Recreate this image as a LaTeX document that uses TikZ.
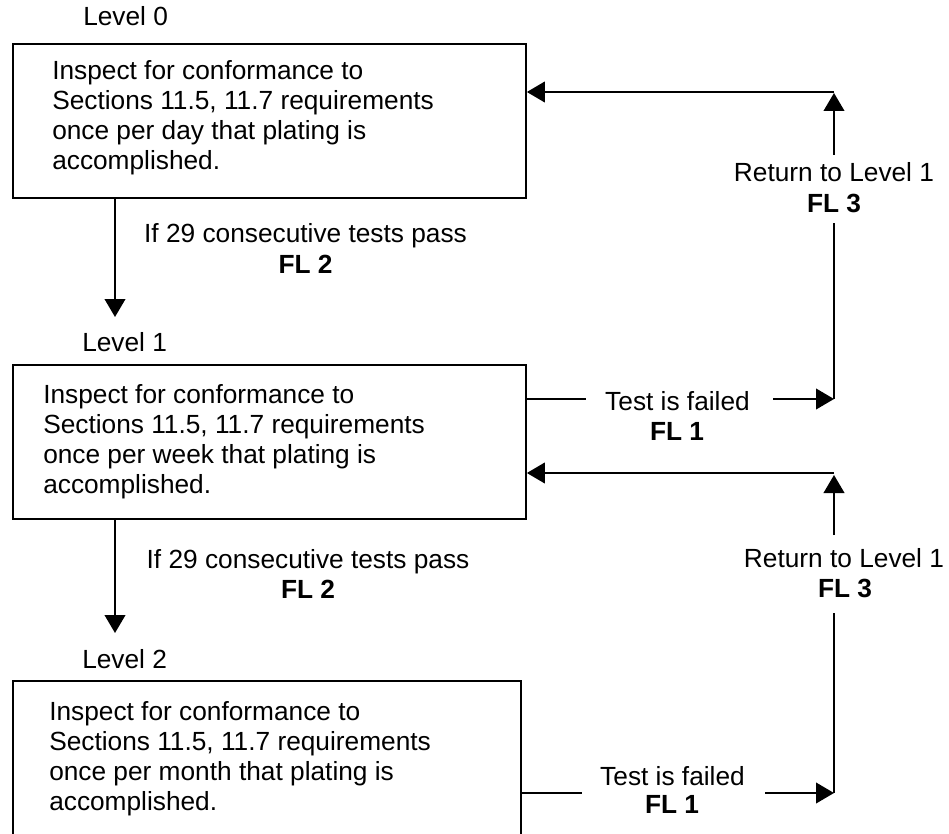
\documentclass[tikz,border=0pt]{standalone}
\usepackage{fontspec}
\setmainfont{Liberation Sans}
\usetikzlibrary{arrows.meta}
\begin{document}
\begin{tikzpicture}[x=0.75pt,y=-0.75pt,
  font=\fontsize{19.7}{22.5}\selectfont,
  box/.style={draw, line width=1.4pt, anchor=north west, inner sep=0pt},
  txt/.style={inner sep=0pt, align=left, anchor=base west},
  lbl/.style={inner sep=0pt, anchor=base},
  lvl/.style={inner sep=0pt, anchor=base west},
  conn/.style={line width=1.4pt},
  arr/.style={conn, -{Triangle[length=13.5pt,width=15.5pt]}}]
\useasboundingbox (0,0) rectangle (949,834);

% boxes
\node[box, minimum width=384.75pt, minimum height=115.5pt] (b0) at (12,43) {};
\node[box, minimum width=384.75pt, minimum height=115.5pt] (b1) at (12,364) {};
\node[box, minimum width=381pt, minimum height=122pt] (b2) at (12,680) {};

% level labels
\node[lvl] (lv0) at (83,26) {Level 0};
\node[lvl] (lv1) at (82,351) {Level 1};
\node[lvl] (lv2) at (82,668) {Level 2};

% box texts (anchor is the baseline of the last line)
\node[txt] (t0) at (52,170) {Inspect for conformance to\\Sections 11.5, 11.7 requirements\\once per day that plating is\\accomplished.};
\node[txt] (t1) at (43,493) {Inspect for conformance to\\Sections 11.5, 11.7 requirements\\once per week that plating is\\accomplished.};
\node[txt] (t2) at (49,810) {Inspect for conformance to\\Sections 11.5, 11.7 requirements\\once per month that plating is\\accomplished.};

% downward arrows
\coordinate (a1) at (115,317);
\coordinate (a2) at (115,633);
\draw[arr] (a1 |- b0.south) -- (a1);
\draw[arr] (a2 |- b1.south) -- (a2);
\node[lbl] (p1) at (305.5,243) {If 29 consecutive tests pass};
\node[lbl] (p1b) at (305.5,273) {\textbf{FL 2}};
\node[lbl] (p2) at (308,568) {If 29 consecutive tests pass};
\node[lbl] (p2b) at (308,598) {\textbf{FL 2}};

% upper loop (Level 1 fails -> Level 0)
\coordinate (f1a) at (586,399);
\coordinate (f1b) at (773,399);
\coordinate (k1) at (834,399);
\coordinate (k1u) at (834,223);
\coordinate (k1v) at (834,155);
\coordinate (k1t) at (834,93);
\coordinate (h0) at (834,92);
\draw[conn] (f1a -| b1.east) -- (f1a);
\draw[arr] (f1b) -- (k1);
\draw[conn] (k1) -- (k1u);
\draw[arr] (k1v) -- (k1t);
\draw[arr] (h0) -- (h0 -| b0.east);
\node[lbl] (tf1) at (677.5,410) {Test is failed};
\node[lbl] (tf1b) at (677,440) {\textbf{FL 1}};
\node[lbl] (r1) at (834,182) {Return to Level 1};
\node[lbl] (r1b) at (834,213) {\textbf{FL 3}};

% lower loop (Level 2 fails -> Level 1)
\coordinate (f2a) at (582,793);
\coordinate (f2b) at (765,793);
\coordinate (k2) at (834,793);
\coordinate (k2u) at (834,613);
\coordinate (k2v) at (834,535);
\coordinate (k2t) at (834,475);
\coordinate (h1) at (834,473);
\draw[conn] (f2a -| b2.east) -- (f2a);
\draw[arr] (f2b) -- (k2);
\draw[conn] (k2) -- (k2u);
\draw[arr] (k2v) -- (k2t);
\draw[arr] (h1) -- (h1 -| b1.east);
\node[lbl] (tf2) at (672.5,785) {Test is failed};
\node[lbl] (tf2b) at (672,813) {\textbf{FL 1}};
\node[lbl] (r2) at (844,567) {Return to Level 1};
\node[lbl] (r2b) at (845,597) {\textbf{FL 3}};
\end{tikzpicture}
\end{document}
